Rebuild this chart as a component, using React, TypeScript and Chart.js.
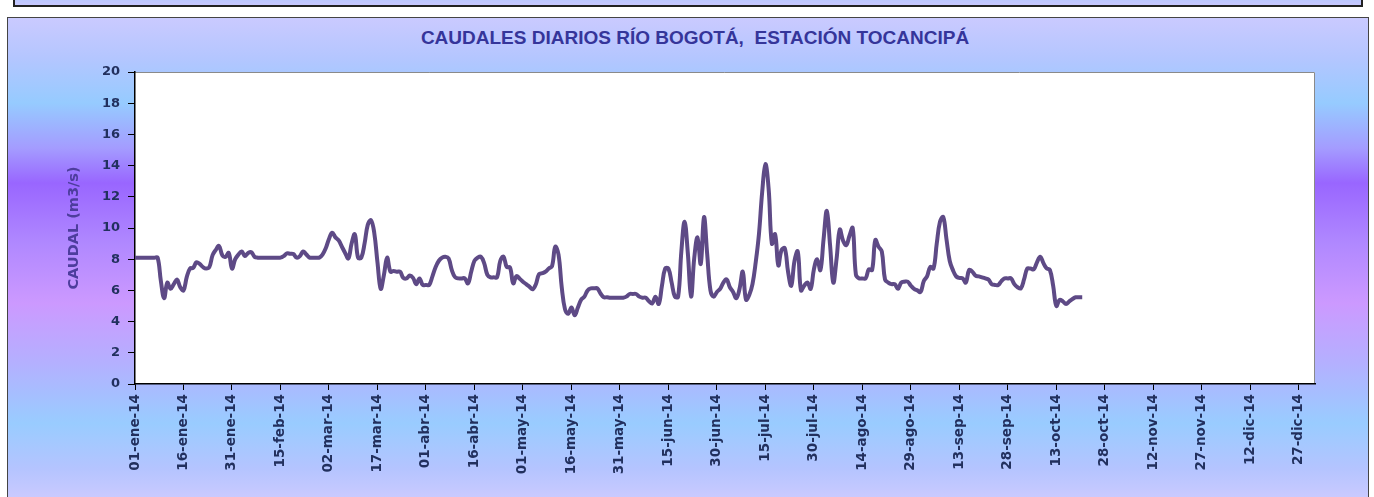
import React, { useEffect, useRef } from "react";
import { Chart, registerables } from "chart.js";

Chart.register(...registerables);

const TITLE = "CAUDALES DIARIOS RÍO BOGOTÁ,  ESTACIÓN TOCANCIPÁ";
const Y_TITLE = "CAUDAL (m3/s)";

const TICK_LABELS = [
  "01-ene-14", "16-ene-14", "31-ene-14", "15-feb-14", "02-mar-14", "17-mar-14",
  "01-abr-14", "16-abr-14", "01-may-14", "16-may-14", "31-may-14", "15-jun-14",
  "30-jun-14", "15-jul-14", "30-jul-14", "14-ago-14", "29-ago-14", "13-sep-14",
  "28-sep-14", "13-oct-14", "28-oct-14", "12-nov-14", "27-nov-14", "12-dic-14",
  "27-dic-14",
];
const DAYS_IN_AXIS = 366;
const TICK_EVERY = 15;

const Y_MIN = 0;
const Y_MAX = 20;
const Y_STEP = 2;

// Daily flow, m3/s, from 01-ene-14 onwards
const CAUDAL = [
  8.1, 8.1, 8.1, 8.1, 8.1, 8.1, 8.1, 8.1, 6.6, 5.5,
  6.5, 6.1, 6.4, 6.7, 6.2, 6.0, 6.85, 7.4, 7.45, 7.8,
  7.7, 7.5, 7.4, 7.5, 8.26, 8.6, 8.85, 8.26, 8.15, 8.4,
  7.4, 8.0, 8.3, 8.5, 8.2, 8.4, 8.45, 8.15, 8.1, 8.1,
  8.1, 8.1, 8.1, 8.1, 8.1, 8.1, 8.2, 8.37, 8.35, 8.33,
  8.1, 8.2, 8.5, 8.3, 8.1, 8.1, 8.1, 8.1, 8.3, 8.7,
  9.3, 9.7, 9.4, 9.2, 8.8, 8.4, 8.05, 9.0, 9.6, 8.1,
  8.1, 9.0, 10.2, 10.5, 9.7, 7.8, 6.1, 7.0, 8.1, 7.2,
  7.25, 7.2, 7.2, 6.8, 6.77, 6.95, 6.8, 6.4, 6.77, 6.35,
  6.35, 6.35, 6.9, 7.5, 7.9, 8.1, 8.16, 8.05, 7.3, 6.85,
  6.77, 6.77, 6.77, 6.45, 7.2, 7.9, 8.1, 8.16, 7.75, 7.0,
  6.84, 6.84, 6.84, 7.9, 8.16, 7.5, 7.47, 6.45, 6.92, 6.75,
  6.56, 6.4, 6.24, 6.07, 6.4, 7.05, 7.1, 7.2, 7.41, 7.56,
  8.8, 8.3, 6.2, 4.8, 4.5, 4.9, 4.4, 4.9, 5.4, 5.6,
  6.0, 6.13, 6.13, 6.13, 5.8, 5.56, 5.56, 5.53, 5.53, 5.53,
  5.53, 5.53, 5.6, 5.77, 5.77, 5.77, 5.6, 5.53, 5.53, 5.3,
  5.17, 5.6, 5.13, 6.3, 7.4, 7.4, 6.5, 5.6, 5.6, 8.5,
  10.4, 8.4, 5.6, 8.1, 9.4, 7.7, 10.7, 8.3, 6.0, 5.6,
  5.9, 6.1, 6.5, 6.7, 6.2, 5.9, 5.5, 6.1, 7.2, 5.4,
  5.7, 6.4, 7.8, 9.6, 12.3, 14.1, 12.5, 9.0, 9.6, 7.6,
  8.6, 8.7, 7.2, 6.3, 7.9, 8.5, 6.0, 6.3, 6.5, 6.1,
  7.35, 8.0, 7.3, 9.3, 11.1, 8.9, 6.5, 8.0, 9.9, 9.2,
  8.9, 9.5, 10.0, 7.0, 6.77, 6.77, 6.77, 7.35, 7.31, 9.23,
  8.8, 8.5, 6.7, 6.5, 6.4, 6.4, 6.1, 6.5, 6.56, 6.56,
  6.3, 6.1, 6.0, 5.9, 6.6, 6.9, 7.5, 7.4, 9.0, 10.4,
  10.7, 9.3, 7.9, 7.3, 6.9, 6.8, 6.77, 6.5, 7.3, 7.2,
  6.95, 6.9, 6.84, 6.77, 6.7, 6.4, 6.35, 6.35, 6.6, 6.77,
  6.77, 6.77, 6.4, 6.2, 6.13, 6.7, 7.4, 7.4, 7.35, 7.8,
  8.16, 7.75, 7.41, 7.31, 6.3, 5.0, 5.4, 5.3, 5.13, 5.3,
  5.45, 5.56, 5.56, 5.56,
];

const W = 1374;
const H = 497;
const PLOT_LEFT = 135;
const PLOT_TOP = 72;
const PLOT_RIGHT = 1315;
const PLOT_BOTTOM = 384;

const TICK_COLOR = "#22305e";
const Y_FONT = { family: "'DejaVu Sans', sans-serif", size: 13, weight: "bold" as const };
const X_FONT = { family: "'DejaVu Sans', sans-serif", size: 13.5, weight: "bold" as const };

const plotArea = {
  id: "plotArea",
  beforeDraw(chart: any) {
    const { ctx, chartArea: a } = chart;
    ctx.save();
    ctx.fillStyle = "#ffffff";
    ctx.fillRect(a.left, a.top, a.right - a.left, a.bottom - a.top);
    ctx.strokeStyle = "#8a8a8a";
    ctx.lineWidth = 1;
    ctx.beginPath();
    ctx.moveTo(a.left, a.top + 0.5);
    ctx.lineTo(a.right - 0.5, a.top + 0.5);
    ctx.lineTo(a.right - 0.5, a.bottom);
    ctx.stroke();
    ctx.restore();
  },
};

export default function App() {
  const ref = useRef<HTMLCanvasElement | null>(null);

  useEffect(() => {
    if (!ref.current) return;
    const labels: string[] = [];
    for (let i = 0; i < DAYS_IN_AXIS; i++) {
      labels.push(i % TICK_EVERY === 0 && TICK_LABELS[i / TICK_EVERY] ? TICK_LABELS[i / TICK_EVERY] : "");
    }
    const isTick = (c: any) => c.index % TICK_EVERY === 0 && !!TICK_LABELS[c.index / TICK_EVERY];
    const chart = new Chart(ref.current, {
      type: "line",
      data: {
        labels,
        datasets: [
          {
            label: "Caudal",
            data: CAUDAL,
            borderColor: "#5e4a86",
            borderWidth: 4,
            pointRadius: 0,
            tension: 0.4,
            fill: false,
          },
        ],
      },
      options: {
        responsive: false,
        animation: false,
        layout: {
          padding: { left: 0, top: PLOT_TOP, right: W - PLOT_RIGHT, bottom: 0 },
        },
        plugins: {
          legend: { display: false },
          tooltip: { enabled: false },
          title: { display: false },
        },
        scales: {
          x: {
            type: "category",
            offset: false,
            afterFit: (s: any) => {
              s.height = H - PLOT_BOTTOM;
            },
            grid: {
              display: true,
              drawOnChartArea: false,
              drawTicks: true,
              tickLength: 6,
              color: (c: any) => (isTick(c) ? "#000" : "rgba(0,0,0,0)"),
              tickColor: (c: any) => (isTick(c) ? "#000" : "rgba(0,0,0,0)"),
            },
            border: { display: true, color: "#000", width: 1.5 },
            ticks: {
              autoSkip: false,
              maxRotation: 90,
              minRotation: 90,
              padding: 4,
              color: TICK_COLOR,
              font: X_FONT,
            },
          },
          y: {
            min: Y_MIN,
            max: Y_MAX,
            afterFit: (s: any) => {
              s.width = PLOT_LEFT;
            },
            grid: {
              display: true,
              drawOnChartArea: false,
              drawTicks: true,
              tickLength: 7,
              color: "#000",
            },
            border: { display: true, color: "#000", width: 1.5 },
            ticks: {
              stepSize: Y_STEP,
              padding: 8,
              color: TICK_COLOR,
              font: Y_FONT,
            },
            title: {
              display: true,
              text: Y_TITLE,
              color: "#4d3d9d",
              font: { family: "'DejaVu Sans', sans-serif", size: 14.5, weight: "bold" },
              padding: { top: 66, bottom: 0 },
            },
          },
        },
      },
      plugins: [plotArea],
    });
    return () => chart.destroy();
  }, []);

  return (
    <div style={{ position: "absolute", left: 0, top: 0, width: W, height: H, overflow: "hidden", background: "#fff" }}>
      <div
        style={{
          position: "absolute",
          left: 13,
          top: -4,
          width: 1350,
          height: 11,
          background: "linear-gradient(to bottom, #b8c8ff, #c8c8ff)",
          border: "2px solid #222",
          boxSizing: "border-box",
        }}
      />
      <div
        style={{
          position: "absolute",
          left: 7,
          top: 17,
          width: 1362,
          height: 500,
          boxSizing: "border-box",
          border: "1px solid #444",
          background:
            "linear-gradient(to bottom, #cacaff 0px, #b4c6ff 40px, #96cbff 85px, #a49cff 130px, #9966ff 165px, #b088ff 225px, #cc99ff 285px, #b4b0ff 345px, #99ccff 405px, #b4c4ff 450px, #cacaff 480px)",
        }}
      />
      <div
        style={{
          position: "absolute",
          left: 0,
          width: W,
          top: 27,
          textAlign: "center",
          paddingLeft: 16,
          boxSizing: "border-box",
          fontFamily: "'Liberation Sans', Arial, sans-serif",
          fontWeight: "bold",
          fontSize: 19,
          lineHeight: "22px",
          color: "#35359a",
          whiteSpace: "pre",
        }}
      >
        {TITLE}
      </div>
      <canvas ref={ref} width={W} height={H} style={{ position: "absolute", left: 0, top: 0, width: W, height: H }} />
    </div>
  );
}
